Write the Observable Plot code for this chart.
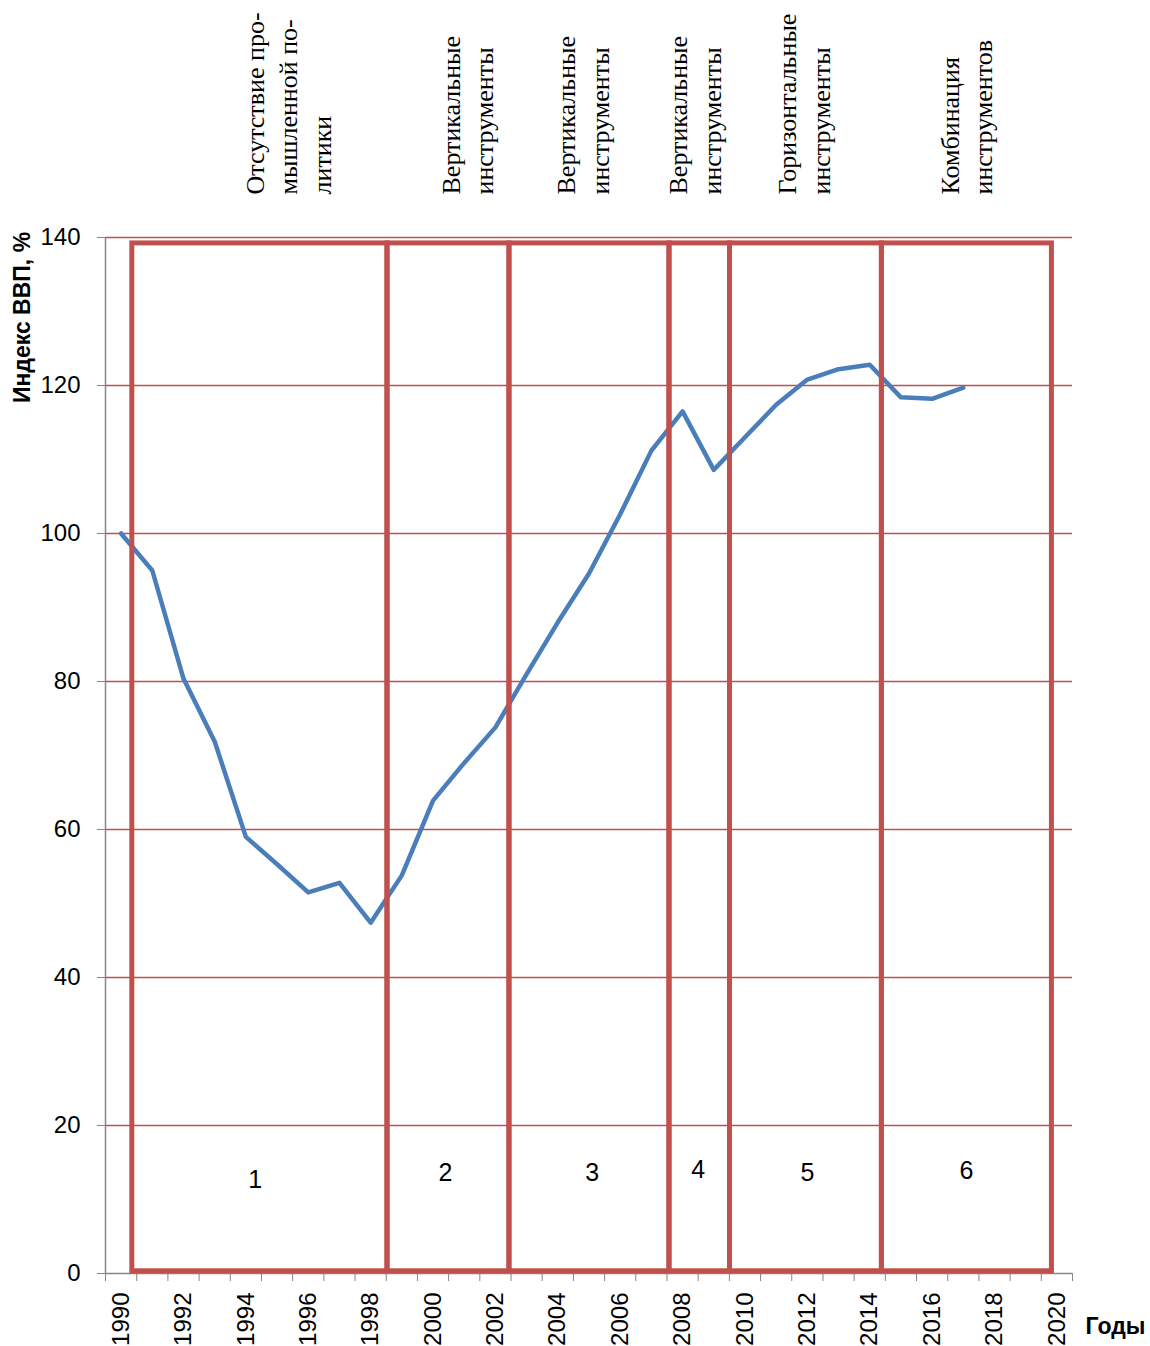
<!DOCTYPE html>
<html><head><meta charset="utf-8">
<script src="https://cdn.jsdelivr.net/npm/d3@7"></script>
<script src="https://cdn.jsdelivr.net/npm/@observablehq/plot@0.6"></script>
<style>body{margin:0;background:#fff}#chart svg{display:block}</style>
</head><body><div id="chart"></div>
<script>
const years = [1990,1991,1992,1993,1994,1995,1996,1997,1998,1999,2000,2001,2002,2003,2004,2005,2006,2007,2008,2009,2010,2011,2012,2013,2014,2015,2016,2017];
const gdpIndex = [100,95,80.4,71.9,59,55.3,51.5,52.8,47.4,53.8,63.9,69,73.8,81,88,94.6,102.6,111.2,116.5,108.6,113,117.4,120.8,122.2,122.8,118.4,118.2,119.7];
const periodBounds = [1990.36,1998.54,2002.45,2007.58,2009.52,2014.39,2019.84];
const periodNumbers = ["1","2","3","4","5","6"];
const periodNumberY = [12.7,13.6,13.6,14,13.6,13.8];
const periodNumberYear = [1994.3,2000.4,2005.1,2008.5,2012.0,2017.1];
const periodTitles = [
  "Отсутствие про-\nмышленной по-\nлитики",
  "Вертикальные\nинструменты",
  "Вертикальные\nинструменты",
  "Вертикальные\nинструменты",
  "Горизонтальные\nинструменты",
  "Комбинация\nинструментов"
];
const periodTitleYear = [1993.8,2000.08,2003.78,2007.38,2010.88,2016.08];
const boxTop = 139.2, boxBottom = 0.3;
const yTicks = [0,20,40,60,80,100,120,140];
const xTickLabels = [1990,1992,1994,1996,1998,2000,2002,2004,2006,2008,2010,2012,2014,2016,2018,2020];
const xAxisTitle = "Годы";
const yAxisTitle = "Индекс ВВП, %";

const series = years.map((y, i) => ({year: y, value: gdpIndex[i]}));
const boxes = periodNumbers.map((n, i) => ({n, x1: periodBounds[i], x2: periodBounds[i + 1], nx: periodNumberYear[i], ny: periodNumberY[i], title: periodTitles[i], ty: periodTitleYear[i]}));
const halfYears = d3.range(years[0] - 0.5, 2021, 1);

const red = "#c0504d", gray = "#868686";
const sans = "'Liberation Sans', Arial, sans-serif";

const chart = Plot.plot({
  width: 1150, height: 1346,
  marginLeft: 105, marginRight: 78, marginTop: 237, marginBottom: 73,
  style: {fontFamily: sans, background: "#fff", overflow: "visible"},
  x: {domain: [1989.5, 2020.5], axis: null},
  y: {domain: [0, 140], axis: null},
  marks: [
    Plot.ruleY(yTicks.filter(d => d > 0), {stroke: red, strokeWidth: 1.5}),
    Plot.ruleX([1989.5], {stroke: gray, strokeWidth: 1.5}),
    Plot.ruleY([0], {stroke: gray, strokeWidth: 1.5}),
    Plot.axisY(yTicks, {tickSize: 8, tickPadding: 17, fontSize: 24, stroke: gray, fill: "#000", label: null, tickFormat: d => d}),
    Plot.axisX(halfYears, {tickSize: 8, stroke: gray, tickFormat: () => "", label: null}),
    Plot.text(xTickLabels, {x: d => d, text: d => String(d), frameAnchor: "bottom", dy: 19, rotate: -90, textAnchor: "end", lineAnchor: "middle", fontSize: 24, fill: "#000"}),
    Plot.line(series, {x: "year", y: "value", stroke: "#4a7ebb", strokeWidth: 4.5, strokeLinejoin: "round", strokeLinecap: "round"}),
    Plot.rect(boxes, {x1: "x1", x2: "x2", y1: boxBottom, y2: boxTop, fill: "none", stroke: red, strokeWidth: 5}),
    Plot.text(boxes, {x: "nx", y: "ny", text: "n", fontSize: 25, fill: "#000"}),
    Plot.text(boxes, {x: "ty", text: "title", frameAnchor: "top", dy: -43, rotate: -90, textAnchor: "start", lineAnchor: "top", lineHeight: 1.3, fontSize: 26, fontFamily: "'Liberation Serif', 'Times New Roman', serif", fill: "#000"}),
    Plot.text([yAxisTitle], {frameAnchor: "top-left", dx: -83, dy: 80, rotate: -90, textAnchor: "middle", lineAnchor: "middle", fontSize: 23, fontWeight: "bold", fill: "#000"}),
    Plot.text([xAxisTitle], {frameAnchor: "bottom-right", dx: 13, dy: 53, textAnchor: "start", lineAnchor: "middle", fontSize: 23, fontWeight: "bold", fill: "#000"})
  ]
});
document.getElementById("chart").appendChild(chart);
</script>
</body></html>
